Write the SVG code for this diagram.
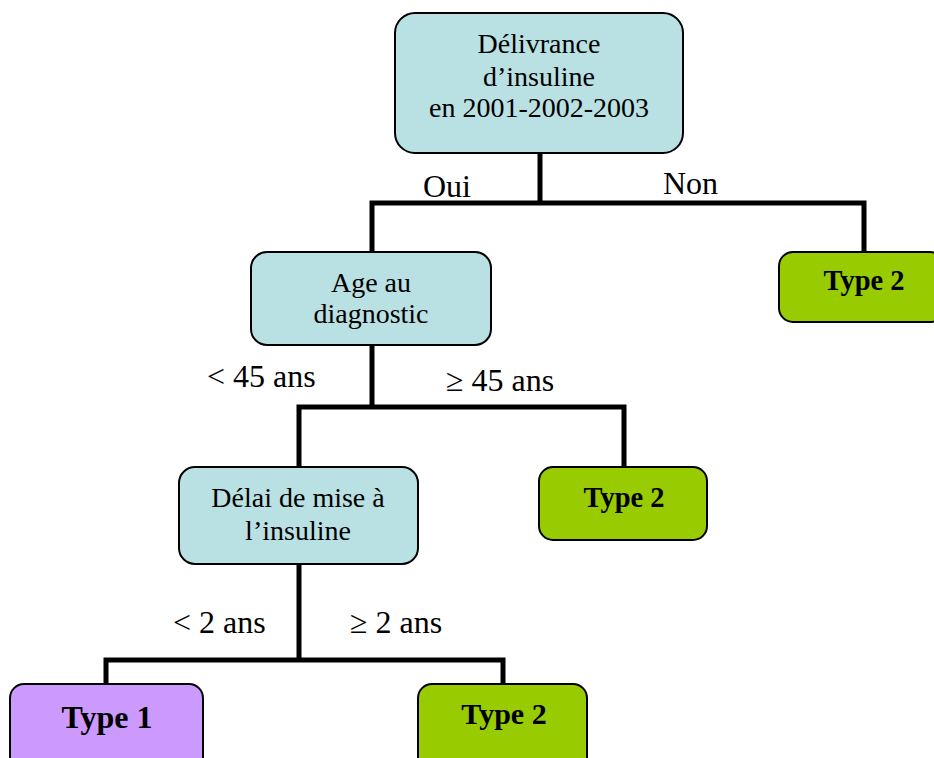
<svg xmlns="http://www.w3.org/2000/svg" width="934" height="758" viewBox="0 0 934 758">
<style>
.q{fill:#b9e0e3;stroke:#000;stroke-width:2}
.g{fill:#99cc00;stroke:#000;stroke-width:2}
.p{fill:#cc99ff;stroke:#000;stroke-width:2}
text{font-family:"Liberation Serif","Times New Roman",serif;fill:#000}
.t{font-size:28px;text-anchor:middle}
.b{font-size:28.5px;font-weight:bold;text-anchor:middle}
.l{font-size:32px}
.c{fill:none;stroke:#000;stroke-width:5}
</style>
<rect width="934" height="758" fill="#fff"/>
<g id="connectors">
<path class="c" d="M540 153V203M372 252V203H864V256"/>
<path class="c" d="M372 345V407M299 467V407H624V467"/>
<path class="c" d="M299 564V660M106 685V660H503V685"/>
</g>
<g id="labels">
<text class="l" x="423" y="197">Oui</text>
<text class="l" x="663" y="194">Non</text>
<text class="l" x="207" y="387">&lt; 45 ans</text>
<text class="l" x="446" y="391">≥ 45 ans</text>
<text class="l" x="173" y="633">&lt; 2 ans</text>
<text class="l" x="350" y="633">≥ 2 ans</text>
</g>
<g id="n1">
<rect class="q" x="395" y="13" width="288" height="140" rx="20"/>
<text class="t" x="539" y="53">Délivrance</text>
<text class="t" x="539" y="86">d’insuline</text>
<text class="t" x="539" y="117">en 2001-2002-2003</text>
</g>
<g id="n2">
<rect class="q" x="251" y="252" width="240" height="93" rx="16"/>
<text class="t" x="371" y="292">Age au</text>
<text class="t" x="371" y="323">diagnostic</text>
</g>
<g id="n3">
<rect class="g" x="779" y="252" width="165" height="70" rx="14"/>
<text class="b" x="864" y="290">Type 2</text>
</g>
<g id="n4">
<rect class="q" x="179" y="467" width="239" height="97" rx="16"/>
<text class="t" x="298" y="507">Délai de mise à</text>
<text class="t" x="298" y="540">l’insuline</text>
</g>
<g id="n5">
<rect class="g" x="539" y="467" width="168" height="73" rx="14"/>
<text class="b" x="624" y="507">Type 2</text>
</g>
<g id="n6">
<rect class="p" x="10" y="684" width="193" height="90" rx="14"/>
<text class="b" x="107" y="728" style="font-size:32px">Type 1</text>
</g>
<g id="n7">
<rect class="g" x="418" y="684" width="169" height="90" rx="14"/>
<text class="b" x="504" y="724" style="font-size:30px">Type 2</text>
</g>
</svg>
